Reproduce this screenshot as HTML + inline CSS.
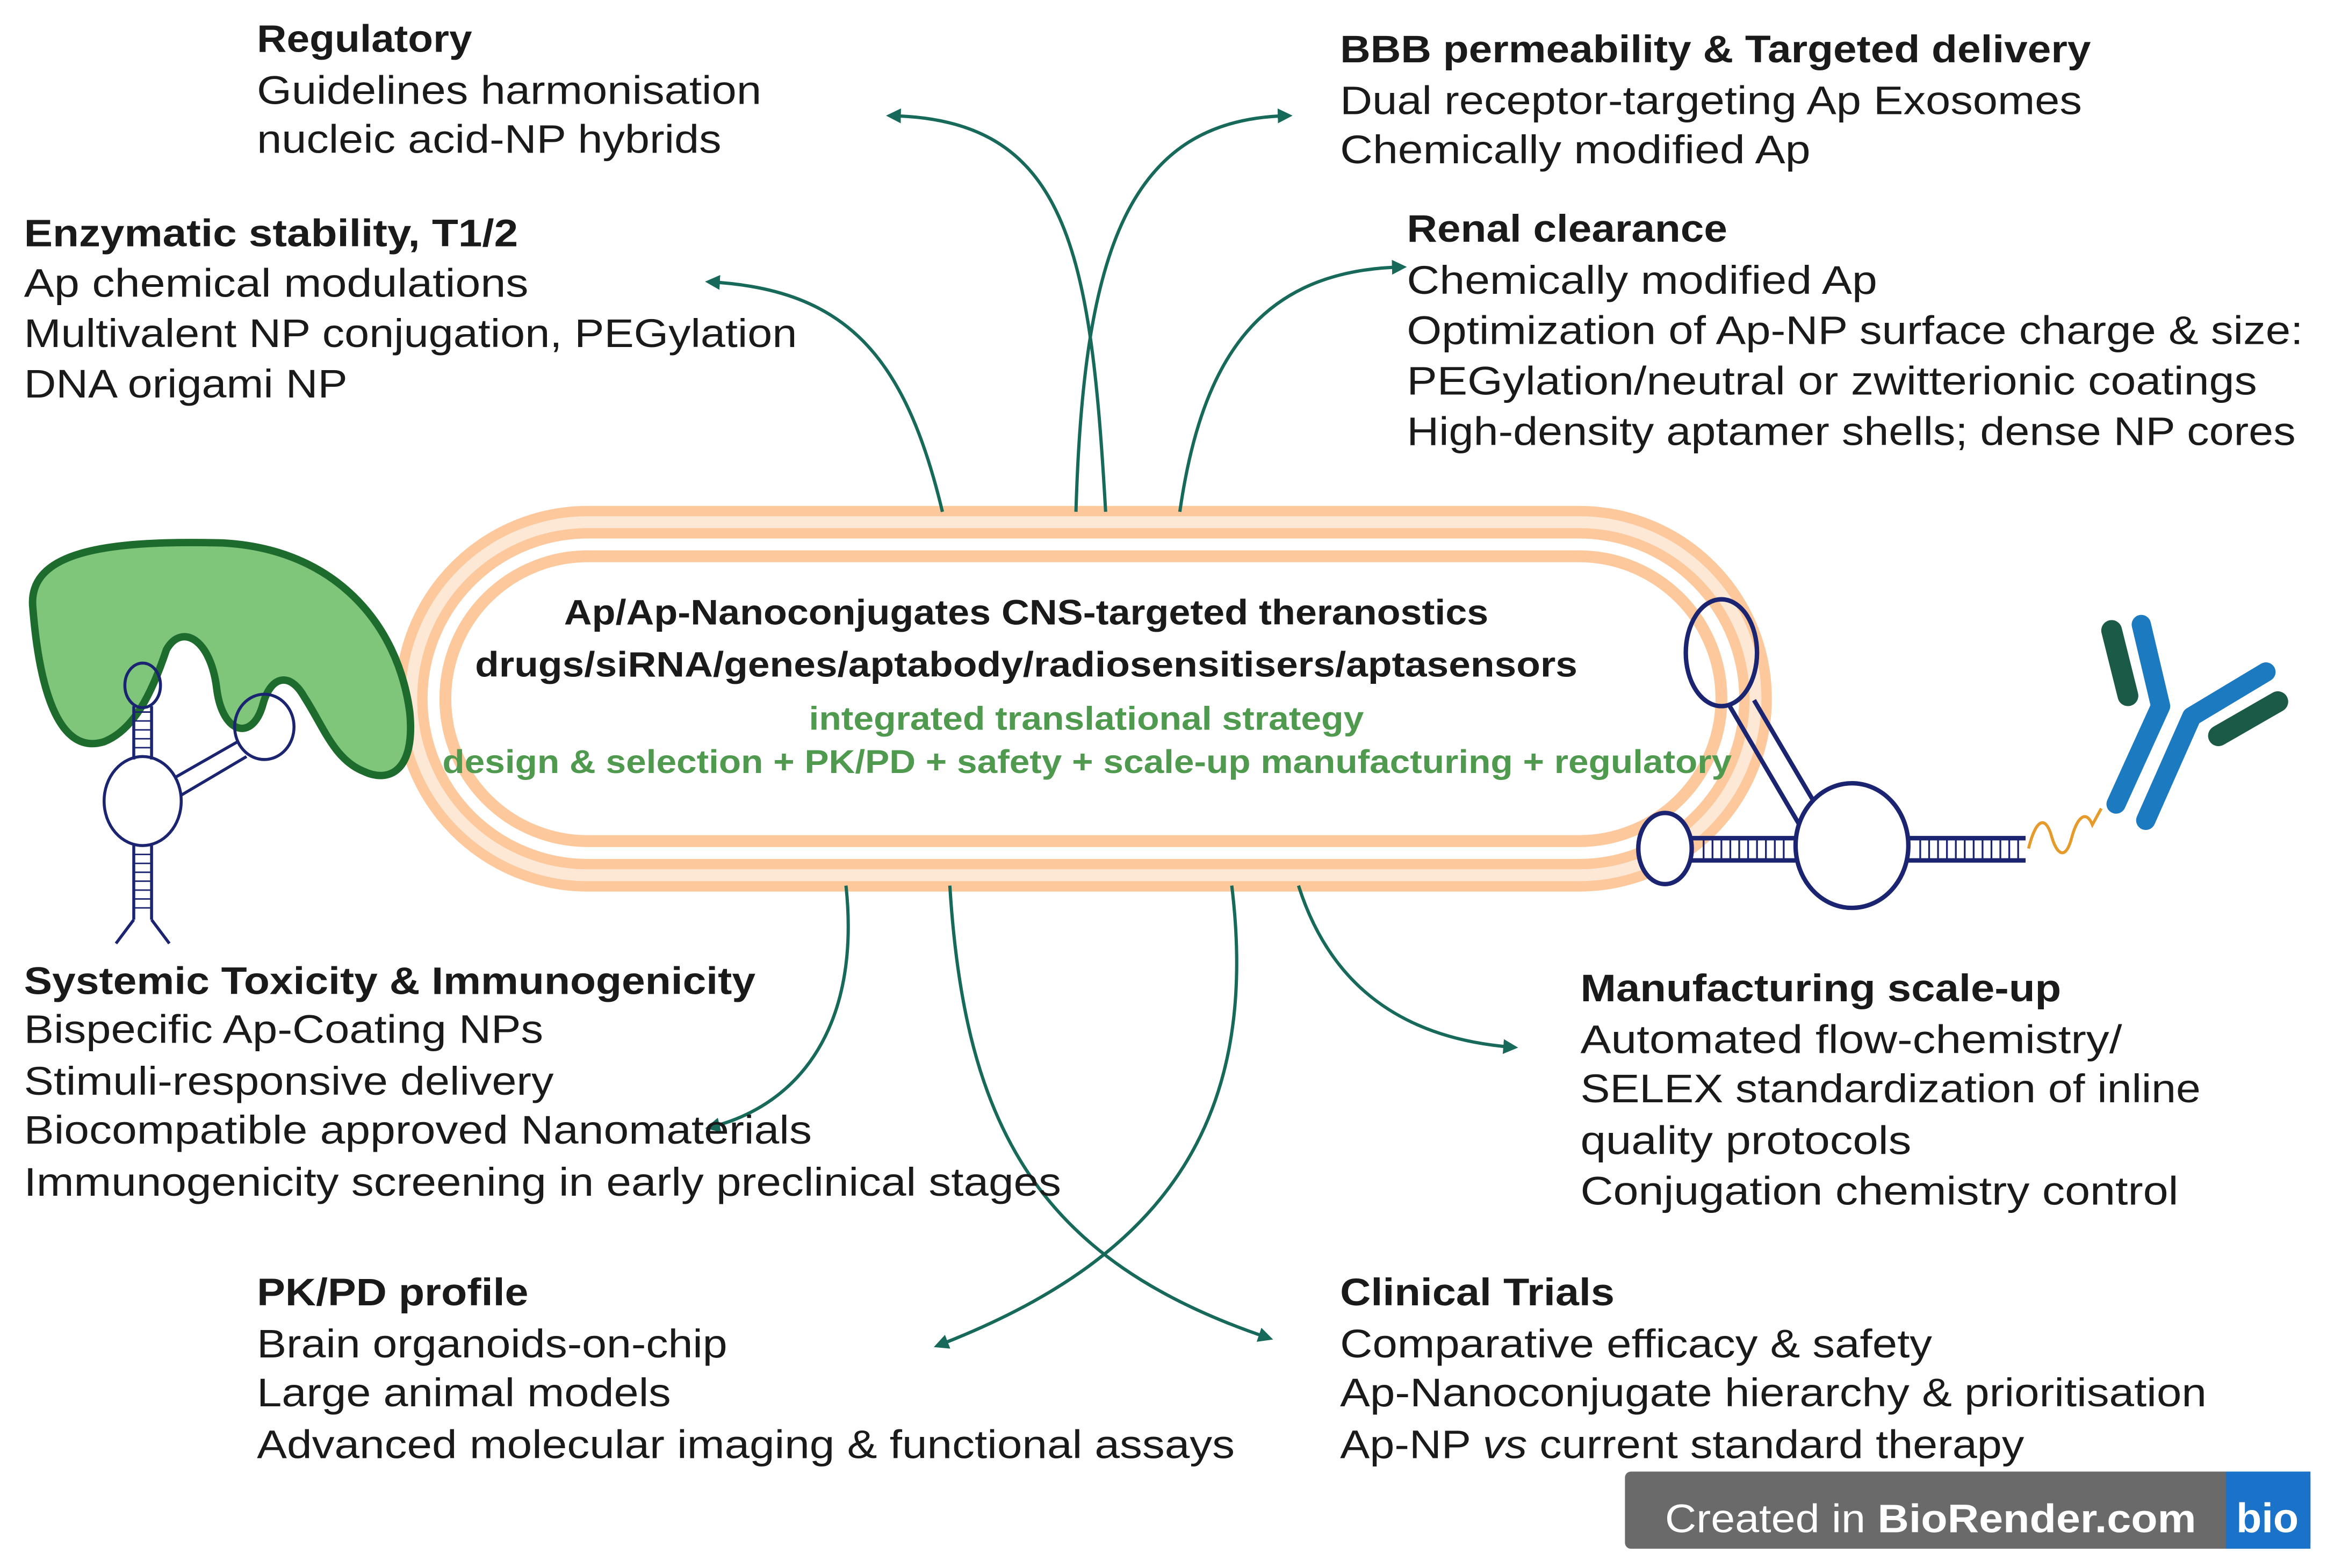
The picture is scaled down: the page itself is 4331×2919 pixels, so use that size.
<!DOCTYPE html>
<html><head><meta charset="utf-8"><style>
html,body{margin:0;padding:0;background:#fff;}
svg{display:block;}
text{font-family:"Liberation Sans",sans-serif;fill:#1a1a1a;}
.h{font-weight:bold;font-size:26px;}
.t{font-size:27px;}
</style></head><body>
<svg width="4331" height="2919" viewBox="0 0 1568 1057" xmlns="http://www.w3.org/2000/svg">
<defs>
<marker id="a" markerWidth="10" markerHeight="10" refX="7" refY="5" orient="auto" markerUnits="userSpaceOnUse">
<path d="M0,0 L10,5 L0,10 Z" fill="#17695a"/></marker>
</defs>
<rect width="1568" height="1057" fill="#fff"/>
<!-- capsule -->
<rect x="277" y="352" width="906" height="238" rx="119" fill="none" stroke="#fcc89c" stroke-width="22"/>
<rect x="277" y="352" width="906" height="238" rx="119" fill="none" stroke="#fde8d6" stroke-width="8"/>
<rect x="300" y="375" width="860" height="192" rx="96" fill="none" stroke="#fcc89c" stroke-width="8"/>

<!-- arrows -->
<g fill="none" stroke="#17695a" stroke-width="2.2" marker-end="url(#a)">
<path d="M745,345 C735,170 720,80 600,78"/>
<path d="M725,345 C730,170 760,80 868,78"/>
<path d="M635,345 C610,240 570,195 478,190"/>
<path d="M795,345 C810,240 850,182 945,180"/>
<path d="M570,597 C580,690 540,745 478,760"/>
<path d="M640,597 C650,760 700,850 855,902"/>
<path d="M830,597 C850,760 780,850 632,907"/>
<path d="M875,597 C895,660 940,700 1020,706"/>
</g>

<!-- center text -->
<text x="380" y="421" textLength="623" lengthAdjust="spacingAndGlyphs" style="font-weight:bold;font-size:24px">Ap/Ap-Nanoconjugates CNS-targeted theranostics</text>
<text x="320" y="456" textLength="743" lengthAdjust="spacingAndGlyphs" style="font-weight:bold;font-size:24px">drugs/siRNA/genes/aptabody/radiosensitisers/aptasensors</text>
<text x="545" y="492" textLength="374" lengthAdjust="spacingAndGlyphs" style="font-weight:bold;font-size:22px;fill:#4f9a4f">integrated translational strategy</text>
<text x="298" y="521" textLength="869" lengthAdjust="spacingAndGlyphs" style="font-weight:bold;font-size:22px;fill:#4f9a4f">design &amp; selection + PK/PD + safety + scale-up manufacturing + regulatory</text>

<!-- left green protein -->
<path d="M22,410 C18,372 70,364 150,366 C225,370 268,420 276,480 C280,520 262,528 245,520 C225,512 218,490 205,470 C195,452 182,456 177,475 C170,500 150,495 146,465 C142,430 122,420 112,438 C102,468 90,492 70,500 C38,510 26,460 22,410 Z" fill="#7fc67a" stroke="#1e6b2e" stroke-width="5"/>
<!-- left aptamer -->
<g fill="none" stroke="#1a2470" stroke-width="2">
<ellipse cx="96" cy="462" rx="12" ry="15"/>
<line x1="90" y1="476" x2="90" y2="512"/><line x1="102" y1="476" x2="102" y2="512"/>
<ellipse cx="178" cy="490" rx="20" ry="22"/>
<line x1="160" y1="500" x2="118" y2="524"/><line x1="166" y1="510" x2="122" y2="536"/>
<ellipse cx="96" cy="540" rx="26" ry="30"/>
<line x1="90" y1="570" x2="90" y2="620"/><line x1="102" y1="570" x2="102" y2="620"/>
<path d="M90,620 L78,636 M102,620 L114,636"/>
</g>
<g stroke="#1a2470" stroke-width="1">
<path d="M90,480H102M90,486H102M90,492H102M90,498H102M90,504H102M90,510H102M90,576H102M90,582H102M90,588H102M90,594H102M90,600H102M90,606H102M90,612H102"/>
</g>

<!-- right aptamer -->
<g fill="none" stroke="#1a2470" stroke-width="3">
<ellipse cx="1160" cy="440" rx="24" ry="36"/>
<path d="M1165,475 L1212,555 M1182,472 L1228,550"/>
<ellipse cx="1248" cy="570" rx="38" ry="42" fill="#fff"/>
<ellipse cx="1122" cy="572" rx="18" ry="24" fill="#fff"/>
<path d="M1140,565 H1210 M1140,580 H1210 M1286,565 H1365 M1286,580 H1365"/>
</g>
<g stroke="#1a2470" stroke-width="1.2">
<path d="M1148,565V580M1154,565V580M1160,565V580M1166,565V580M1172,565V580M1178,565V580M1184,565V580M1190,565V580M1196,565V580M1202,565V580M1294,565V580M1300,565V580M1306,565V580M1312,565V580M1318,565V580M1324,565V580M1330,565V580M1336,565V580M1342,565V580M1348,565V580M1354,565V580M1360,565V580"/>
</g>
<path d="M1367,572 C1372,552 1378,550 1382,562 C1386,577 1392,580 1396,565 C1400,550 1406,546 1410,556 L1416,545" fill="none" stroke="#e59a2a" stroke-width="2"/>
<!-- antibody -->
<g stroke-linecap="round" stroke-linejoin="round" fill="none">
<path d="M1443,421 L1456,476 L1426,542" stroke="#1c7ac0" stroke-width="13"/>
<path d="M1527,453 L1477,483 L1446,553" stroke="#1c7ac0" stroke-width="13"/>
<path d="M1423,425 L1434,469" stroke="#1c5a48" stroke-width="14"/>
<path d="M1535,473 L1495,496" stroke="#1c5a48" stroke-width="14"/>
</g>

<!-- text blocks -->
<text class="h" x="173" y="35" textLength="145" lengthAdjust="spacingAndGlyphs">Regulatory</text>
<text class="t" x="173" y="70" textLength="340" lengthAdjust="spacingAndGlyphs">Guidelines harmonisation</text>
<text class="t" x="173" y="103" textLength="313" lengthAdjust="spacingAndGlyphs">nucleic acid-NP hybrids</text>

<text class="h" x="903" y="42" textLength="506" lengthAdjust="spacingAndGlyphs">BBB permeability &amp; Targeted delivery</text>
<text class="t" x="903" y="77" textLength="500" lengthAdjust="spacingAndGlyphs">Dual receptor-targeting Ap Exosomes</text>
<text class="t" x="903" y="110" textLength="317" lengthAdjust="spacingAndGlyphs">Chemically modified Ap</text>

<text class="h" x="16" y="166" textLength="333" lengthAdjust="spacingAndGlyphs">Enzymatic stability, T1/2</text>
<text class="t" x="16" y="200" textLength="340" lengthAdjust="spacingAndGlyphs">Ap chemical modulations</text>
<text class="t" x="16" y="234" textLength="521" lengthAdjust="spacingAndGlyphs">Multivalent NP conjugation, PEGylation</text>
<text class="t" x="16" y="268" textLength="218" lengthAdjust="spacingAndGlyphs">DNA origami NP</text>

<text class="h" x="948" y="163" textLength="216" lengthAdjust="spacingAndGlyphs">Renal clearance</text>
<text class="t" x="948" y="198" textLength="317" lengthAdjust="spacingAndGlyphs">Chemically modified Ap</text>
<text class="t" x="948" y="232" textLength="604" lengthAdjust="spacingAndGlyphs">Optimization of Ap-NP surface charge &amp; size:</text>
<text class="t" x="948" y="266" textLength="573" lengthAdjust="spacingAndGlyphs">PEGylation/neutral or zwitterionic coatings</text>
<text class="t" x="948" y="300" textLength="599" lengthAdjust="spacingAndGlyphs">High-density aptamer shells; dense NP cores</text>

<text class="h" x="16" y="670" textLength="493" lengthAdjust="spacingAndGlyphs">Systemic Toxicity &amp; Immunogenicity</text>
<text class="t" x="16" y="703" textLength="350" lengthAdjust="spacingAndGlyphs">Bispecific Ap-Coating NPs</text>
<text class="t" x="16" y="738" textLength="357" lengthAdjust="spacingAndGlyphs">Stimuli-responsive delivery</text>
<text class="t" x="16" y="771" textLength="531" lengthAdjust="spacingAndGlyphs">Biocompatible approved Nanomaterials</text>
<text class="t" x="16" y="806" textLength="699" lengthAdjust="spacingAndGlyphs">Immunogenicity screening in early preclinical stages</text>

<text class="h" x="1065" y="675" textLength="324" lengthAdjust="spacingAndGlyphs">Manufacturing scale-up</text>
<text class="t" x="1065" y="710" textLength="365" lengthAdjust="spacingAndGlyphs">Automated flow-chemistry/</text>
<text class="t" x="1065" y="743" textLength="418" lengthAdjust="spacingAndGlyphs">SELEX standardization of inline</text>
<text class="t" x="1065" y="778" textLength="223" lengthAdjust="spacingAndGlyphs">quality protocols</text>
<text class="t" x="1065" y="812" textLength="403" lengthAdjust="spacingAndGlyphs">Conjugation chemistry control</text>

<text class="h" x="173" y="880" textLength="183" lengthAdjust="spacingAndGlyphs">PK/PD profile</text>
<text class="t" x="173" y="915" textLength="317" lengthAdjust="spacingAndGlyphs">Brain organoids-on-chip</text>
<text class="t" x="173" y="948" textLength="279" lengthAdjust="spacingAndGlyphs">Large animal models</text>
<text class="t" x="173" y="983" textLength="659" lengthAdjust="spacingAndGlyphs">Advanced molecular imaging &amp; functional assays</text>

<text class="h" x="903" y="880" textLength="185" lengthAdjust="spacingAndGlyphs">Clinical Trials</text>
<text class="t" x="903" y="915" textLength="399" lengthAdjust="spacingAndGlyphs">Comparative efficacy &amp; safety</text>
<text class="t" x="903" y="948" textLength="584" lengthAdjust="spacingAndGlyphs">Ap-Nanoconjugate hierarchy &amp; prioritisation</text>
<text class="t" x="903" y="983" textLength="461" lengthAdjust="spacingAndGlyphs">Ap-NP <tspan font-style="italic">vs</tspan> current standard therapy</text>

<!-- BioRender badge -->
<rect x="1095" y="992" width="462" height="52" rx="4" fill="#6a6a6a"/>
<rect x="1500" y="992" width="57" height="52" fill="#1a73c9"/>
<text x="1122" y="1033" textLength="358" lengthAdjust="spacingAndGlyphs" style="font-size:27px;fill:#fff">Created in <tspan font-weight="bold">BioRender.com</tspan></text>
<text x="1528" y="1033" text-anchor="middle" style="font-size:28px;font-weight:bold;fill:#fff">bio</text>
</svg>
</body></html>
